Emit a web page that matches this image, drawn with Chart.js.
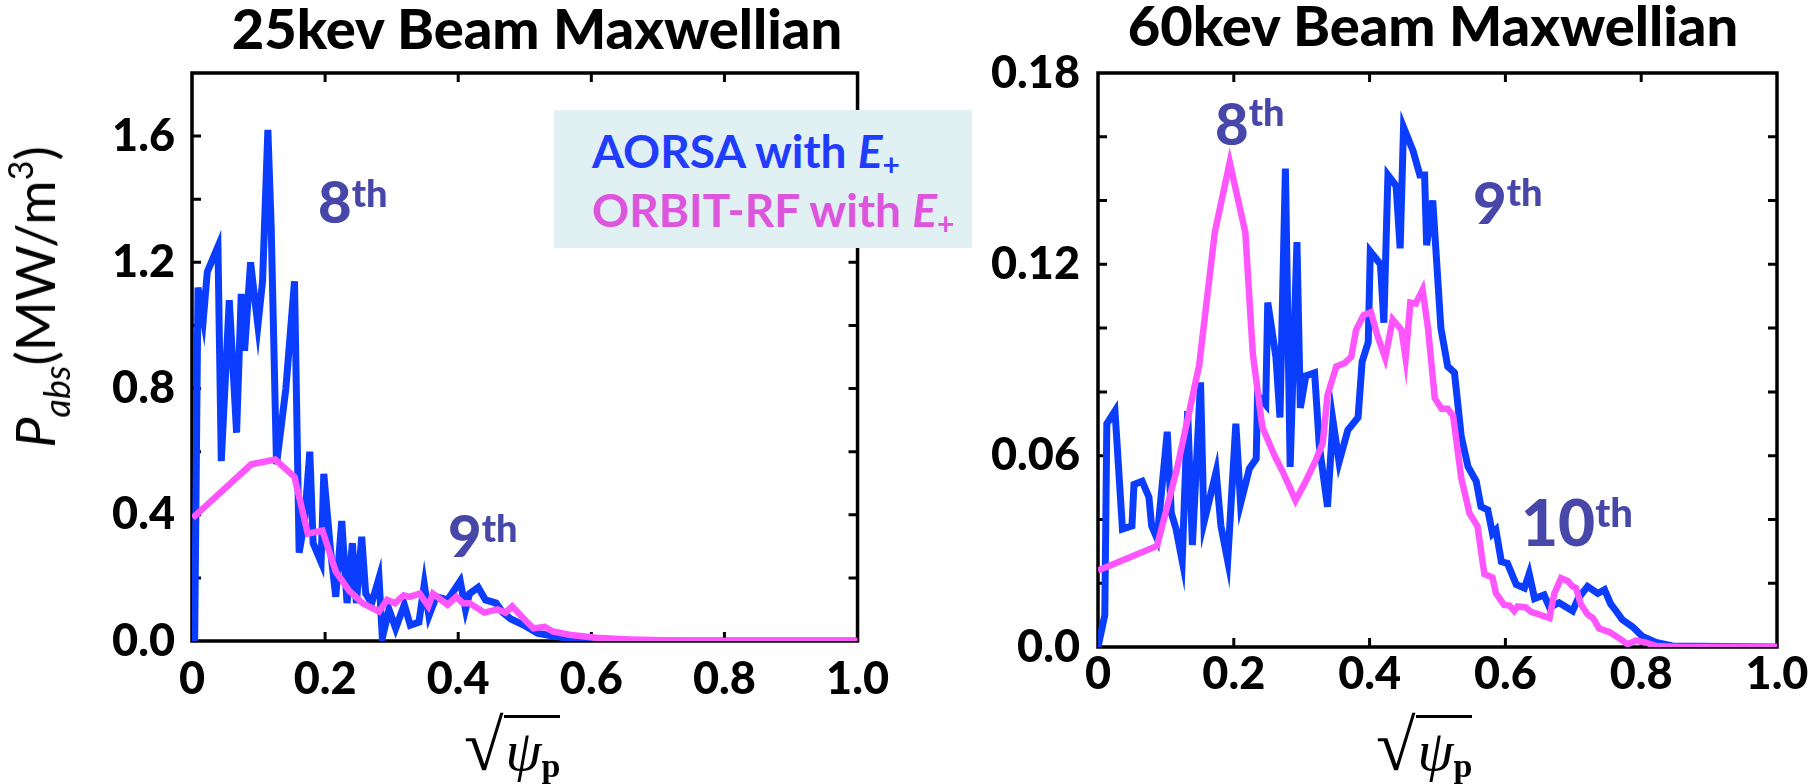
<!DOCTYPE html>
<html>
<head>
<meta charset="utf-8">
<script src="https://cdn.jsdelivr.net/npm/chart.js@4.4.1/dist/chart.umd.min.js"></script>
<style>
  body { margin: 0; background: #fff; }
  #page { position: relative; width: 1809px; height: 784px; overflow: hidden; background: #fff; font-family: Lato, sans-serif; }
  canvas { position: absolute; top: 0; }
  .t { position: absolute; white-space: nowrap; line-height: 1; }
  .title { font-weight: 900; font-size: 56px; color: #000; text-align: center; }
  .leg { font-weight: 700; font-size: 46px; }
  .sb { font-size: 30px; position: relative; top: 8px; font-style: normal; }
  .ann { font-weight: 900; color: #4747a9; }
  .sp { position: relative; }
  .ylab { font-weight: 400; font-size: 54px; color: #000; transform: translate(-50%, -50%) rotate(-90deg); }
  .xlab { font-family: "Liberation Serif", "DejaVu Serif", serif; font-size: 58px; color: #000; }
  .rad { font-size: 72px; }
  .ov { border-top: 3px solid #000; padding-left: 2px; }
  .ps { font-size: 34px; position: relative; top: 7px; }
</style>
</head>
<body>
<div id="page">
  <canvas id="left" width="900" height="784" style="left:0"></canvas>
  <canvas id="right" width="909" height="784" style="left:900px"></canvas>

  <div class="t title" style="left:0;width:1074px;top:0">25kev Beam Maxwellian</div>
  <div class="t title" style="left:933px;width:1000px;top:-3px">60kev Beam Maxwellian</div>

  <div style="position:absolute;left:554px;top:110px;width:418px;height:138px;background:#e0f0f3"></div>
  <div class="t leg" style="left:592px;top:128px;color:#1f3cff">AORSA with <i>E</i><span class="sb">+</span></div>
  <div class="t leg" style="left:592px;top:187px;color:#dd55dd">ORBIT-RF with <i>E</i><span class="sb">+</span></div>

  <div class="t ann" style="left:318px;top:172px;font-size:58px">8<span class="sp" style="font-size:38px;top:-16px">th</span></div>
  <div class="t ann" style="left:448px;top:506px;font-size:58px">9<span class="sp" style="font-size:38px;top:-15px">th</span></div>
  <div class="t ann" style="left:1215px;top:94px;font-size:58px">8<span class="sp" style="font-size:38px;top:-19px">th</span></div>
  <div class="t ann" style="left:1473px;top:173px;font-size:58px">9<span class="sp" style="font-size:38px;top:-18px">th</span></div>
  <div class="t ann" style="left:1521px;top:490px;font-size:64px">10<span class="sp" style="font-size:40px;top:-19px">th</span></div>

  <div class="t ylab" style="left:35px;top:297px"><i>P</i><span style="font-size:36px;font-style:italic;position:relative;top:15px">abs</span>(MW/m<span style="font-size:34px;position:relative;top:-22px">3</span>)</div>

  <div class="t xlab" style="left:464px;top:710px"><span class="rad">√</span><span class="ov"><i>ψ</i><b class="ps">p</b></span></div>
  <div class="t xlab" style="left:1376px;top:710px"><span class="rad">√</span><span class="ov"><i>ψ</i><b class="ps">p</b></span></div>
</div>
<script>
// 25 keV panel
const leftAorsaX = [0.004, 0.009, 0.017, 0.023, 0.039, 0.044, 0.056, 0.067, 0.074, 0.079, 0.088, 0.099, 0.106, 0.114, 0.119, 0.127,
  0.141, 0.154, 0.161, 0.169, 0.177, 0.182, 0.194, 0.198, 0.208, 0.216, 0.225, 0.233, 0.241, 0.247, 0.255, 0.261, 0.270, 0.281,
  0.286, 0.296, 0.306, 0.319, 0.328, 0.341, 0.349, 0.356, 0.367, 0.384, 0.403, 0.411, 0.417, 0.430, 0.441, 0.457, 0.467, 0.479,
  0.499, 0.519, 0.544, 0.579, 0.619, 1.0];
const leftAorsaY = [0, 1.12, 1.02, 1.17, 1.25, 0.57, 1.08, 0.66, 1.10, 0.92, 1.20, 1.00, 1.14, 1.62, 1.31, 0.56,
  0.80, 1.14, 0.28, 0.38, 0.60, 0.31, 0.25, 0.53, 0.29, 0.14, 0.38, 0.12, 0.31, 0.12, 0.33, 0.15, 0.12, 0.20,
  0.01, 0.10, 0.04, 0.115, 0.05, 0.06, 0.18, 0.08, 0.14, 0.13, 0.19, 0.10, 0.15, 0.17, 0.13, 0.12, 0.09, 0.07,
  0.05, 0.025, 0.015, 0.005, 0, 0];
const leftOrbitX = [0.001, 0.089, 0.125, 0.154, 0.174, 0.196, 0.216, 0.236, 0.256, 0.281, 0.293, 0.305, 0.318, 0.327, 0.342,
  0.355, 0.362, 0.384, 0.397, 0.407, 0.417, 0.439, 0.459, 0.471, 0.481, 0.501, 0.513, 0.530, 0.542, 0.567, 0.607, 0.657,
  0.706, 0.756, 1.0];
const leftOrbitY = [0.39, 0.56, 0.575, 0.52, 0.34, 0.35, 0.22, 0.16, 0.12, 0.093, 0.13, 0.12, 0.145, 0.14, 0.15,
  0.11, 0.15, 0.115, 0.14, 0.12, 0.12, 0.09, 0.10, 0.09, 0.11, 0.065, 0.04, 0.045, 0.03, 0.02, 0.01, 0.005,
  0.002, 0, 0];

// 60 keV panel
const rightAorsaX = [0.0, 0.010, 0.013, 0.025, 0.036, 0.050, 0.053, 0.065, 0.075, 0.079, 0.087, 0.102, 0.108, 0.115, 0.124,
  0.132, 0.139, 0.151, 0.156, 0.174, 0.181, 0.191, 0.203, 0.210, 0.223, 0.233, 0.235, 0.247, 0.250, 0.262, 0.268, 0.276,
  0.283, 0.293, 0.298, 0.306, 0.319, 0.326, 0.338, 0.346, 0.355, 0.368, 0.383, 0.389, 0.398, 0.401, 0.416, 0.421, 0.427,
  0.439, 0.445, 0.450, 0.464, 0.474, 0.481, 0.484, 0.493, 0.505, 0.515, 0.525, 0.535, 0.545, 0.557, 0.564, 0.574, 0.581,
  0.586, 0.594, 0.603, 0.616, 0.628, 0.635, 0.643, 0.657, 0.665, 0.679, 0.699, 0.707, 0.721, 0.736, 0.746, 0.755, 0.763,
  0.772, 0.787, 0.802, 0.822, 0.846, 1.0];
const rightAorsaY = [0, 0.010, 0.070, 0.074, 0.037, 0.038, 0.051, 0.052, 0.047, 0.038, 0.034, 0.0675, 0.042, 0.037, 0.027,
  0.074, 0.032, 0.083, 0.039, 0.055, 0.038, 0.027, 0.070, 0.045, 0.056, 0.059, 0.079, 0.076, 0.108, 0.091, 0.072, 0.150,
  0.0565, 0.127, 0.075, 0.085, 0.086, 0.063, 0.044, 0.071, 0.058, 0.068, 0.072, 0.0895, 0.0956, 0.124, 0.120, 0.1017, 0.148,
  0.1446, 0.125, 0.163, 0.1556, 0.148, 0.148, 0.126, 0.140, 0.100, 0.088, 0.086, 0.066, 0.0565, 0.052, 0.044, 0.043, 0.0356,
  0.0367, 0.0268, 0.0262, 0.0196, 0.0185, 0.023, 0.0152, 0.0163, 0.0124, 0.0139, 0.0113, 0.0152, 0.019, 0.0168, 0.018, 0.0135, 0.0113,
  0.0086, 0.0064, 0.0033, 0.0014, 0.0003, 0];
const rightOrbitX = [0.0, 0.087, 0.117, 0.149, 0.172, 0.194, 0.217, 0.228, 0.242, 0.260, 0.272, 0.291, 0.306, 0.321, 0.331,
  0.338, 0.351, 0.363, 0.373, 0.380, 0.391, 0.402, 0.411, 0.423, 0.434, 0.447, 0.453, 0.460, 0.468, 0.478, 0.486, 0.496,
  0.506, 0.515, 0.523, 0.535, 0.547, 0.559, 0.569, 0.581, 0.586, 0.598, 0.606, 0.613, 0.618, 0.630, 0.638, 0.665, 0.672,
  0.682, 0.692, 0.699, 0.704, 0.711, 0.721, 0.729, 0.738, 0.753, 0.765, 0.780, 0.792, 0.807, 0.822, 0.856, 1.0];
const rightOrbitY = [0.024, 0.0317, 0.0565, 0.0884, 0.130, 0.152, 0.130, 0.092, 0.069, 0.060, 0.055, 0.046, 0.052, 0.0587, 0.064,
  0.079, 0.088, 0.089, 0.091, 0.0994, 0.104, 0.105, 0.098, 0.0906, 0.1027, 0.0994, 0.0906, 0.108, 0.1077, 0.112, 0.100, 0.078,
  0.0747, 0.0747, 0.0725, 0.053, 0.042, 0.0378, 0.0229, 0.0218, 0.0169, 0.0132, 0.013, 0.0113, 0.0127, 0.0124, 0.011, 0.0091, 0.0168,
  0.0216, 0.0207, 0.019, 0.0185, 0.0135, 0.0102, 0.0091, 0.0058, 0.0047, 0.0031, 0.0009, 0.002, 0.0014, 0.0003, 0, 0];

const xTickLabels = ['0', '0.2', '0.4', '0.6', '0.8', '1.0'];
const leftYLabels = ['0.0', '0.4', '0.8', '1.2', '1.6'];
const rightYLabels = ['0.0', '0.06', '0.12', '0.18'];

const aorsaColor = '#0b3dff';
const orbitColor = '#ff55ff';
const tickFont = { family: 'Lato', weight: '900', size: 45 };

function toPoints(xs, ys) {
  return xs.map((x, i) => ({ x: x, y: ys[i] }));
}

// frame box with inward ticks on all four sides
const frameTicks = {
  id: 'frameTicks',
  beforeDatasetsDraw(chart) {
    const { ctx, chartArea: a, scales } = chart;
    ctx.save();
    ctx.strokeStyle = '#000';
    ctx.lineWidth = 3;
    ctx.beginPath();
    scales.x.ticks.forEach(t => {
      const px = scales.x.getPixelForValue(t.value);
      if (px - a.left < 3 || a.right - px < 3) return;
      ctx.moveTo(px, a.bottom); ctx.lineTo(px, a.bottom - 9);
      ctx.moveTo(px, a.top); ctx.lineTo(px, a.top + 9);
    });
    scales.y.ticks.forEach(t => {
      const py = scales.y.getPixelForValue(t.value);
      if (py - a.top < 3 || a.bottom - py < 3) return;
      ctx.moveTo(a.left, py); ctx.lineTo(a.left + 9, py);
      ctx.moveTo(a.right, py); ctx.lineTo(a.right - 9, py);
    });
    ctx.stroke();
    ctx.lineWidth = 3.5;
    ctx.strokeRect(a.left, a.top, a.right - a.left, a.bottom - a.top);
    ctx.restore();
  }
};

function makePanel(id, p) {
  return new Chart(document.getElementById(id), {
    type: 'line',
    data: {
      datasets: [
        { data: toPoints(p.orbitX, p.orbitY), borderColor: orbitColor, borderWidth: 6.5, order: 0 },
        { data: toPoints(p.aorsaX, p.aorsaY), borderColor: aorsaColor, borderWidth: 7, order: 1 }
      ]
    },
    options: {
      responsive: false,
      animation: false,
      layout: { padding: { top: 73, right: p.padRight, left: 0, bottom: 0 } },
      elements: { point: { radius: 0 }, line: { tension: 0, fill: false } },
      plugins: { legend: { display: false }, tooltip: { enabled: false } },
      scales: {
        x: {
          type: 'linear', min: 0, max: 1,
          afterFit: s => { s.height = p.xAxisHeight; },
          grid: { display: false, drawTicks: false },
          border: { display: false },
          ticks: {
            stepSize: 0.2, padding: p.xPad, color: '#000', font: tickFont, maxRotation: 0, autoSkip: false,
            callback: v => xTickLabels[Math.round(v / 0.2)]
          }
        },
        y: {
          type: 'linear', min: 0, max: p.yMax,
          afterFit: s => { s.width = p.yAxisWidth; },
          grid: { display: false, drawTicks: false },
          border: { display: false },
          ticks: {
            stepSize: p.yStep, padding: p.yPad, color: '#000', font: tickFont, autoSkip: false,
            callback: v => {
              const k = Math.round(v / p.yStep);
              return k % p.labelEvery === 0 ? (p.yLabels[k / p.labelEvery] || '') : '';
            }
          }
        }
      }
    },
    plugins: [frameTicks]
  });
}

makePanel('left', {
  aorsaX: leftAorsaX, aorsaY: leftAorsaY, orbitX: leftOrbitX, orbitY: leftOrbitY,
  yMax: 1.8, yStep: 0.2, labelEvery: 2, yLabels: leftYLabels,
  yAxisWidth: 192, xAxisHeight: 143, padRight: 38, xPad: 11, yPad: 17
});
makePanel('right', {
  aorsaX: rightAorsaX, aorsaY: rightAorsaY, orbitX: rightOrbitX, orbitY: rightOrbitY,
  yMax: 0.18, yStep: 0.02, labelEvery: 3, yLabels: rightYLabels,
  yAxisWidth: 198, xAxisHeight: 137, padRight: 32, xPad: 0, yPad: 18
});
</script>
</body>
</html>
